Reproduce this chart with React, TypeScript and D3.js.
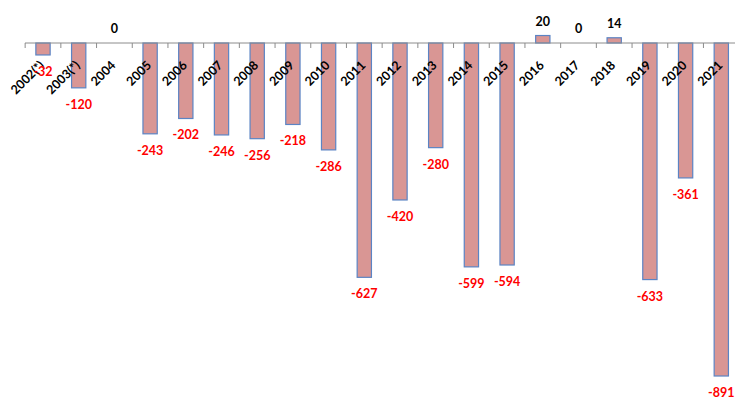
import React from "react";
import * as d3 from "d3";

const categories = [
  "2002(*)", "2003(*)", "2004", "2005", "2006", "2007", "2008", "2009", "2010", "2011",
  "2012", "2013", "2014", "2015", "2016", "2017", "2018", "2019", "2020", "2021",
];
const values = [
  -32, -120, 0, -243, -202, -246, -256, -218, -286, -627,
  -420, -280, -599, -594, 20, 0, 14, -633, -361, -891,
];

const W = 735;
const H = 403;
const FONT = "Lato, 'Open Sans', sans-serif";

export default function App() {
  const x = d3.scaleBand<string>().domain(categories).range([25.15, 739.15]).paddingInner(0).paddingOuter(0);
  const y = d3.scaleLinear().domain([0, -891]).range([43, 376]);
  const bw = x.bandwidth() * 0.4;
  const y0 = y(0);

  return (
    <svg width={W} height={H} style={{ position: "absolute", left: 0, top: 0, background: "#fff" }}>
      {values.map((v, i) => {
        const c = categories[i];
        const cx = (x(c) as number) + x.bandwidth() / 2;
        if (v === 0) return null;
        const top = Math.min(y(v), y0);
        const h = Math.abs(y(v) - y0);
        return (
          <rect key={c} x={cx - bw / 2} y={top} width={bw} height={h}
            fill="#d99694" stroke="#5b84c4" strokeWidth={1.2} />
        );
      })}
      <line x1={25} x2={W} y1={y0} y2={y0} stroke="#8c8c8c" strokeWidth={1} />
      {categories.map((c) => (
        <line key={"t" + c} x1={x(c) as number} x2={x(c) as number} y1={y0} y2={y0 + 5} stroke="#8c8c8c" strokeWidth={1} />
      ))}
      {categories.map((c) => {
        const cx = (x(c) as number) + x.bandwidth() / 2;
        return (
          <text key={"c" + c} transform={`translate(${cx + 2},${y0 + 23}) rotate(-45)`}
            textAnchor="end" fontFamily={FONT} fontWeight="bold" fontSize={12.5} fill="#000">
            {c}
          </text>
        );
      })}
      {values.map((v, i) => {
        const c = categories[i];
        const cx = (x(c) as number) + x.bandwidth() / 2;
        const neg = v < 0;
        const yy = neg ? y(v) + 21 : y(v) - 10;
        return (
          <text key={"v" + c} x={cx} y={yy} textAnchor="middle" fontFamily={FONT}
            fontWeight="bold" fontSize={12.5} fill={neg ? "#ff0000" : "#000"}>
            {v}
          </text>
        );
      })}
    </svg>
  );
}
